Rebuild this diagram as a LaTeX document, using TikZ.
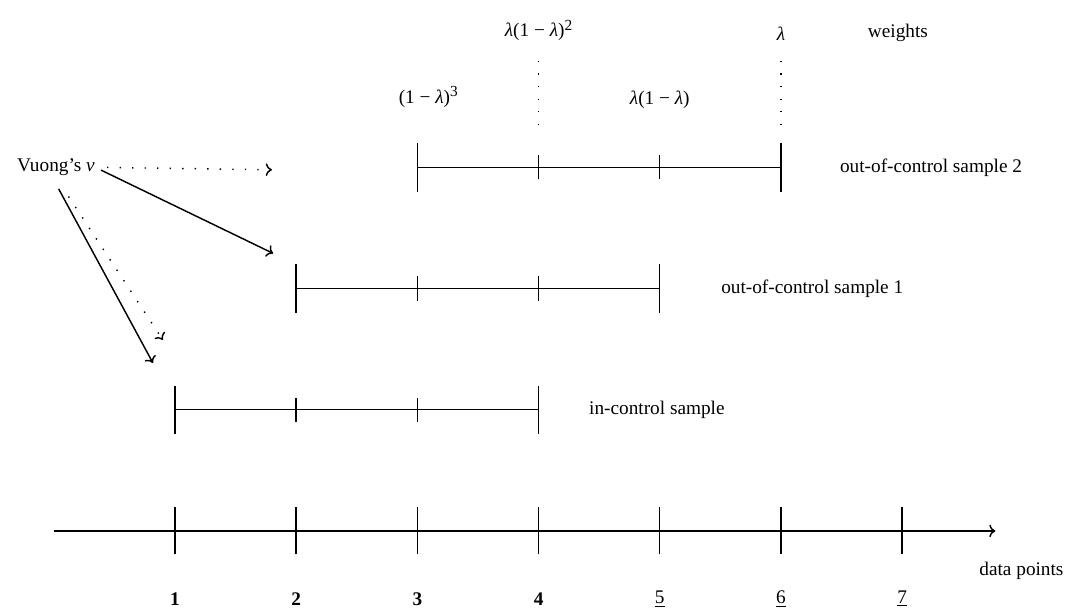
\documentclass[tikz,border=0pt]{standalone}
\usepackage{fontspec}
\setmainfont{Liberation Serif}
\usetikzlibrary{positioning,arrows.meta}

\newcommand{\lam}{\textit{λ}}
\newcommand{\supr}[1]{\raisebox{0.75ex}{\footnotesize #1}}

\begin{document}
\begin{tikzpicture}[x=62.9pt,y=62.9pt,line width=0.75pt,
        >={To[length=3.2pt,width=6.5pt]},
        dots/.style={dash pattern=on 0.7pt off 5.8pt},
        txt/.style={inner sep=2pt}]
    \useasboundingbox (-0.444,-0.693) rectangle (8.385,4.381);
    % data points axis
    \coordinate (axstart) at (0,0);
    \coordinate (axend) at (7.77,0);
    \draw[->] (axstart) -- (axend);
    \foreach \i in {1,...,7} {
        \draw (\i,-0.194) -- (\i,0.194);
    }
    \foreach \i in {1,2,3,4} {
        \node[txt,font=\bfseries] (num\i) at (\i,-0.56) {\i};
    }
    \foreach \i in {5,6,7} {
        \node[txt] (num\i) at (\i,-0.56) {\underline{\i}};
    }
    \node[txt,anchor=west] (datapts) at (7.6,-0.33) {data points};
    % samples
    \foreach \y/\a/\lx/\name in {1/1/4.38/in-control sample,
                                 2/2/5.47/out-of-control sample 1,
                                 3/3/6.45/out-of-control sample 2} {
        \draw (\a,\y) -- ({\a+3},\y);
        \draw (\a,\y-0.2) -- (\a,\y+0.2);
        \draw ({\a+3},\y-0.2) -- ({\a+3},\y+0.2);
        \draw ({\a+1},\y-0.1) -- ({\a+1},\y+0.1);
        \draw ({\a+2},\y-0.1) -- ({\a+2},\y+0.1);
        \node[txt,anchor=west] (lab\y) at (\lx,\y) {\name};
    }
    % weights
    \draw[dots] (4,3.35) -- (4,3.89);
    \draw[dots] (6,3.35) -- (6,3.89);
    \node[txt] (w3) at (3.09,3.58) {(1 − \lam)\supr{3}};
    \node[txt] (w2) at (4,4.13) {\lam(1 − \lam)\supr{2}};
    \node[txt] (w1) at (5,3.56) {\lam(1 − \lam)};
    \node[txt] (w0) at (6,4.10) {\lam};
    \node[txt] (wts) at (6.965,4.11) {weights};
    % Vuong's statistic
    \node[txt] (vuong) at (0.018,3.0) {Vuong’s \textit{ν}};
    \coordinate (toos2) at (1.80,2.98);
    \coordinate (toos1) at (1.81,2.29);
    \coordinate (toic) at (0.818,1.386);
    \coordinate (toicd) at (0.90,1.576);
    \draw[->,dots,shorten <=4pt] (vuong.east) -- (toos2);
    \draw[->,shorten <=1pt] ([yshift=-1pt]vuong.east) -- (toos1);
    \draw[->,shorten <=5pt] ([xshift=-1pt]vuong.south) -- (toic);
    \draw[->,dots,shorten <=10pt] ([xshift=1pt]vuong.south) -- (toicd);
\end{tikzpicture}
\end{document}
